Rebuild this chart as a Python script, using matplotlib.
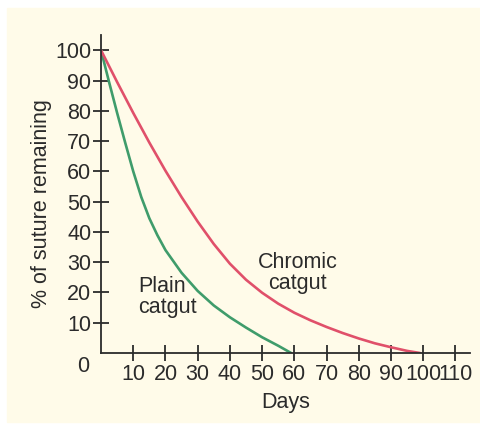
import matplotlib
matplotlib.use('Agg')
import matplotlib.pyplot as plt
from matplotlib.patches import Rectangle

plt.rcParams['font.family'] = ['Liberation Sans', 'DejaVu Sans']

# % of suture remaining over time (days)
plain_days = [0, 2.5, 5, 7.5, 10, 12.5, 15, 17.5, 20, 25, 30, 35, 40, 45, 50, 55, 59]
plain_pct = [100, 89.5, 79.3, 69.5, 60, 51.5, 44.5, 38.9, 34, 26.5, 20.5, 15.7,
             11.8, 8.4, 5.2, 2.4, 0]

chromic_days = [0, 5, 10, 15, 20, 25, 30, 35, 40, 45, 50, 55, 60, 65, 70, 75,
                80, 85, 90, 95, 99]
chromic_pct = [100, 89.5, 79.3, 69.5, 60.2, 51.5, 43.4, 36, 29.5, 24.2, 19.9,
               16.3, 13.3, 10.8, 8.6, 6.6, 4.8, 3.2, 1.9, 0.7, 0]

x_ticks = [10, 20, 30, 40, 50, 60, 70, 80, 90, 100, 110]
y_ticks = [10, 20, 30, 40, 50, 60, 70, 80, 90, 100]

bg = '#fffbe9'
ink = '#2b2b2b'
fs = 15.5

fig = plt.figure(figsize=(4.81, 4.25), dpi=100)
panel = Rectangle((7 / 481, 3 / 425), 474 / 481, 414 / 425,
                  transform=fig.transFigure, color=bg, zorder=-10)
fig.add_artist(panel)

ax = fig.add_axes([0.21, 0.1694, 0.767, 0.748])
ax.patch.set_alpha(0)

ax.plot(plain_days, plain_pct, color='#3f9c6b', lw=1.9,
        solid_capstyle='round', solid_joinstyle='round')
ax.plot(chromic_days, chromic_pct, color='#e0506a', lw=1.9,
        solid_capstyle='round', solid_joinstyle='round')

ax.set_xlim(0, 114.5)
ax.set_ylim(0, 105)
for side in ['top', 'right']:
    ax.spines[side].set_visible(False)
for side in ['left', 'bottom']:
    ax.spines[side].set_color(ink)
    ax.spines[side].set_linewidth(1.3)

ax.set_xticks(x_ticks)
ax.set_yticks(y_ticks)
ax.tick_params(axis='both', direction='inout', length=12, width=1.3,
               color=ink, labelcolor=ink, labelsize=fs)
ax.tick_params(axis='x', pad=2)
ax.tick_params(axis='y', pad=1)

ax.annotate('0', xy=(0, 0), xytext=(-12.6, -9.9), textcoords='offset points',
            ha='center', va='center', fontsize=fs, color=ink)

ax.set_xlabel('Days', fontsize=fs, color=ink, labelpad=5)
ax.set_ylabel('% of suture remaining', fontsize=fs, color=ink)
ax.yaxis.set_label_coords(-0.132, 0.47)

ax.text(11.5, 18.5, 'Plain\ncatgut', ha='left', va='center', fontsize=fs,
        color=ink, linespacing=1.05)
ax.text(61, 26.4, 'Chromic\ncatgut', ha='center', va='center', fontsize=fs,
        color=ink, linespacing=1.05)

plt.savefig('out.png', dpi=100)
